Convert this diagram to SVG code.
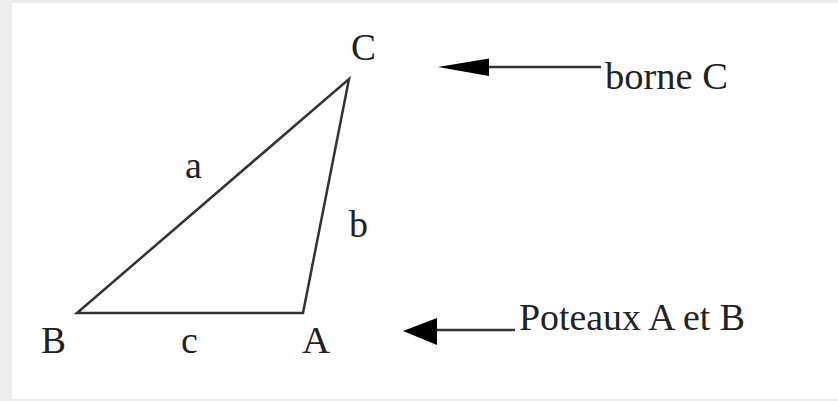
<svg xmlns="http://www.w3.org/2000/svg" width="838" height="401" viewBox="0 0 838 401">
<style>
.lbl{font-family:"Liberation Serif","Times New Roman",serif;font-size:38px;fill:#222}
.edge{fill:none;stroke:#333;stroke-width:2.5;stroke-linejoin:miter}
.arr{stroke:#333;stroke-width:2.5}
.head{fill:#000}
</style>
<rect x="0" y="0" width="838" height="401" fill="#ececec"/>
<rect x="12" y="3" width="826" height="396" fill="#ffffff"/>
<g id="triangle">
<polygon class="edge" points="77,313 349,79 303,313"/>
</g>
<g id="labels">
<text class="lbl" x="351" y="60" textLength="25" lengthAdjust="spacingAndGlyphs">C</text>
<text class="lbl" x="185" y="178">a</text>
<text class="lbl" x="349" y="237">b</text>
<text class="lbl" x="41" y="353" textLength="25" lengthAdjust="spacingAndGlyphs">B</text>
<text class="lbl" x="181" y="353">c</text>
<text class="lbl" x="302" y="353" textLength="28" lengthAdjust="spacingAndGlyphs">A</text>
</g>
<g id="node-borne-c">
<text class="lbl" x="605" y="89" textLength="123" lengthAdjust="spacingAndGlyphs">borne C</text>
</g>
<g id="node-poteaux">
<text class="lbl" x="519" y="330" textLength="226" lengthAdjust="spacingAndGlyphs">Poteaux A et B</text>
</g>
<g id="connectors">
<line class="arr" x1="488" y1="67" x2="601" y2="67"/>
<polygon class="head" points="438,67 489,58.5 489,76"/>
<line class="arr" x1="436" y1="330" x2="515" y2="330"/>
<polygon class="head" points="403,331 437,318 437,345"/>
</g>
</svg>
